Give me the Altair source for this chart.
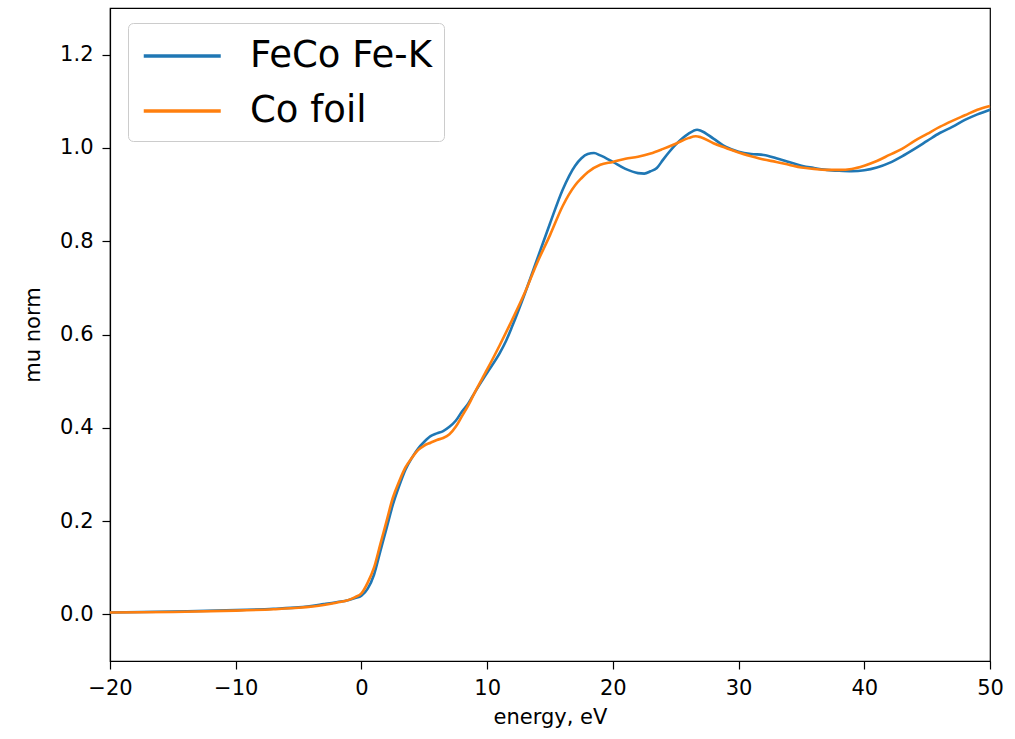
import altair as alt
import pandas as pd

# FeCo measured at the Fe K-edge, energies relative to E0 (eV)
feco_energy = [-20, -15, -10, -7, -5, -3, -2, -1, -0.5, 0, 0.5, 1, 1.5, 2, 2.5, 3,
               3.5, 4, 4.5, 5, 5.5, 6, 6.5, 7, 7.5, 8, 8.5, 9, 10, 11, 11.5, 12, 13,
               14, 15, 16, 17, 17.5, 18, 18.5, 19, 20, 21, 22, 22.5, 23, 23.5, 24,
               25, 26, 26.7, 27, 28, 29, 30, 31, 32, 33, 34, 35, 36, 37, 38, 39,
               40, 41, 42, 43, 44, 45, 46, 47, 48, 49, 50]
feco_mu = [0.004, 0.006, 0.009, 0.012, 0.015, 0.022, 0.026, 0.031, 0.035, 0.040,
           0.055, 0.085, 0.135, 0.185, 0.235, 0.275, 0.310, 0.335, 0.355, 0.370,
           0.382, 0.388, 0.393, 0.402, 0.415, 0.435, 0.452, 0.475, 0.518, 0.560,
           0.586, 0.618, 0.688, 0.763, 0.838, 0.910, 0.962, 0.978, 0.987, 0.989,
           0.984, 0.970, 0.955, 0.946, 0.945, 0.950, 0.957, 0.975, 1.007, 1.030,
           1.039, 1.037, 1.020, 1.002, 0.992, 0.987, 0.985, 0.978, 0.970, 0.962,
           0.957, 0.953, 0.951, 0.950, 0.952, 0.958, 0.968, 0.982, 0.998, 1.015,
           1.032, 1.045, 1.060, 1.072, 1.082]

# Co foil reference
co_energy = [-20, -15, -10, -7, -5, -3, -2, -1, -0.5, 0, 0.5, 1, 1.5, 2, 2.5, 3,
             3.5, 4, 4.5, 5, 5.5, 6, 6.5, 7, 7.5, 8, 8.5, 9, 10, 11, 12, 13, 14,
             15, 16, 16.5, 17, 17.5, 18, 19, 20, 21, 22, 23, 24, 25, 26, 26.6, 27,
             28, 29, 30, 31, 32, 33, 34, 35, 36, 37, 38, 39, 40, 41, 42, 43, 44,
             45, 46, 47, 48, 49, 50]
co_mu = [0.004, 0.005, 0.008, 0.011, 0.014, 0.020, 0.025, 0.031, 0.037, 0.045,
         0.068, 0.100, 0.150, 0.200, 0.250, 0.285, 0.315, 0.335, 0.352, 0.362,
         0.368, 0.374, 0.378, 0.386, 0.402, 0.425, 0.448, 0.475, 0.525, 0.577,
         0.632, 0.690, 0.755, 0.813, 0.875, 0.900, 0.920, 0.935, 0.948, 0.964,
         0.970, 0.977, 0.981, 0.988, 0.998, 1.009, 1.021, 1.025, 1.023, 1.010,
         1.000, 0.990, 0.982, 0.975, 0.970, 0.964, 0.958, 0.955, 0.953, 0.953,
         0.955, 0.962, 0.972, 0.985, 0.998, 1.015, 1.030, 1.045, 1.058, 1.070,
         1.082, 1.090]

series_names = ["FeCo Fe-K", "Co foil"]
series_colors = ["#1f77b4", "#ff7f0e"]
x_ticks = [-20, -10, 0, 10, 20, 30, 40, 50]
y_ticks = [0.0, 0.2, 0.4, 0.6, 0.8, 1.0, 1.2]

feco = pd.DataFrame({"energy": feco_energy, "mu": feco_mu, "sample": series_names[0]})
co = pd.DataFrame({"energy": co_energy, "mu": co_mu, "sample": series_names[1]})

x_enc = alt.X("energy:Q",
              scale=alt.Scale(domain=[-20, 50], nice=False, zero=False),
              axis=alt.Axis(title="energy, eV", values=x_ticks, format="d",
                            labelFlush=False, labelPadding=8, titlePadding=8))
y_enc = alt.Y("mu:Q",
              scale=alt.Scale(domain=[-0.1, 1.3], nice=False, zero=False),
              axis=alt.Axis(title="mu norm", values=y_ticks, format=".1f",
                            labelFlush=False, labelPadding=9, titlePadding=16))
color_enc = alt.Color(
    "sample:N",
    scale=alt.Scale(domain=series_names, range=series_colors),
    legend=alt.Legend(
        title=None, orient="none", legendX=18, legendY=15,
        # a long horizontal stroke swatch, drawn to the right of its anchor
        symbolType="M-1,0H3", symbolSize=1482, symbolStrokeWidth=3.5,
        symbolOffset=2,
        labelFontSize=37, labelFont="DejaVu Sans", labelColor="black",
        labelLimit=400, labelOffset=66, padding=12, rowPadding=16,
        strokeColor="#cccccc", fillColor="white", cornerRadius=5,
    ),
)

def curve(df):
    return alt.Chart(df).mark_line(strokeWidth=2.6, interpolate="monotone").encode(
        x=x_enc, y=y_enc, color=color_enc, order=alt.Order("energy:Q")
    )

chart = alt.layer(curve(feco), curve(co)).properties(
    width=880, height=653,
    autosize=alt.AutoSizeParams(type="none"),
    padding={"left": 110, "top": 8, "right": 25, "bottom": 78},
).configure_view(
    stroke="black", strokeWidth=1.2
).configure_axis(
    grid=False, labelFont="DejaVu Sans", titleFont="DejaVu Sans",
    labelFontSize=21, titleFontSize=21, titleFontWeight="normal",
    labelColor="black", titleColor="black",
    domainColor="black", domainWidth=1.2,
    tickColor="black", tickWidth=1.2, tickSize=8,
)

chart.save("out.html", embed_options={"renderer": "svg", "actions": False})
